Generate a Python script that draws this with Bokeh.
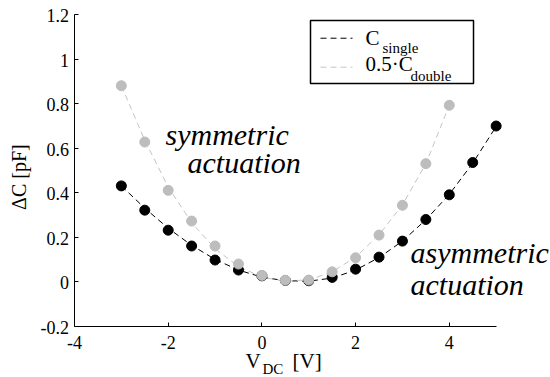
import math
from bokeh.plotting import figure
from bokeh.models import (Range1d, FixedTicker, PrintfTickFormatter, Label, BoxAnnotation, Arrow)
from bokeh.embed import file_html
from bokeh.resources import INLINE

# ---- data ----
v_single = [-3, -2.5, -2, -1.5, -1, -0.5, 0, 0.5, 1, 1.5, 2, 2.5, 3, 3.5, 4, 4.5, 5]
c_single = [0.430, 0.321, 0.231, 0.160, 0.097, 0.052, 0.026, 0.005, 0.004, 0.019,
            0.056, 0.110, 0.182, 0.279, 0.390, 0.535, 0.699]
fit_single = [0.430, 0.330, 0.240, 0.163, 0.100, 0.052, 0.020, 0.004, 0.002, 0.016,
              0.052, 0.108, 0.182, 0.278, 0.392, 0.532, 0.697]

v_double = [-3, -2.5, -2, -1.5, -1, -0.5, 0, 0.5, 1, 1.5, 2, 2.5, 3, 3.5, 4]
c_double_half = [0.880, 0.627, 0.410, 0.272, 0.160, 0.079, 0.028, 0.006, 0.007, 0.044,
                 0.107, 0.209, 0.343, 0.530, 0.792]
fit_double_half = [0.880, 0.635, 0.425, 0.265, 0.148, 0.068, 0.020, 0.002, 0.008, 0.044,
                   0.110, 0.210, 0.345, 0.530, 0.792]

x_ticks = [-4, -2, 0, 2, 4]
y_ticks = [-0.2, 0, 0.2, 0.4, 0.6, 0.8, 1, 1.2]

SERIF = "'Liberation Serif'"
GRAY_PT = "#bdbdbd"
GRAY_LN = "#c4c4c4"
PX_X = 46.85   # pixels per x unit
PX_Y = 222.6   # pixels per y unit
DESC = 0.216   # font descent (em) -- text is anchored at the descent line

# the frame fills the whole canvas; axes are pinned at x=-4 and y=-0.2
p = figure(width=550, height=377, output_backend="svg", toolbar_location=None,
           x_range=Range1d(-5.5795, 6.1601), y_range=Range1d(-0.4307, 1.2629),
           min_border=0, min_border_left=0, min_border_right=0,
           min_border_top=0, min_border_bottom=0)
p.outline_line_color = None
p.grid.visible = False
p.background_fill_color = "white"
p.border_fill_color = "white"

p.xaxis.fixed_location = -0.2
p.yaxis.fixed_location = -4
p.xaxis.bounds = (-4, 5)
p.yaxis.bounds = (-0.2, 1.2)
p.xaxis.ticker = FixedTicker(ticks=x_ticks)
p.yaxis.ticker = FixedTicker(ticks=y_ticks)
for ax in (p.xaxis[0], p.yaxis[0]):
    ax.axis_line_color = "black"
    ax.axis_line_width = 1
    ax.major_tick_line_color = "black"
    ax.major_tick_in = 4
    ax.major_tick_out = 0
    ax.minor_tick_line_color = None
    ax.formatter = PrintfTickFormatter(format=" ")  # tick texts drawn below in serif


def lab(x, y, text, size, style="normal", rotated=False, align="left"):
    s = float(size.replace("px", ""))
    if rotated:
        x = x - DESC * s / PX_X
    else:
        y = y + DESC * s / PX_Y
    p.add_layout(Label(x=x, y=y, text=text, text_font=SERIF, text_font_size=size,
                       text_font_style=style, text_color="black", level="overlay",
                       angle=(math.pi / 2 if rotated else 0), text_align=align,
                       text_baseline="alphabetic"))


# tick labels (serif), placed at the tick values
for t in x_ticks:
    lab(t, -0.2914, "%g" % t, "18px", align="center")
for t in y_ticks:
    lab(-4.1174, t - 0.022, "%g" % t, "18px", align="right")

# fitted dashed curves
p.line(v_single, fit_single, line_color="black", line_width=1, line_dash="6 4")
p.line(v_double, fit_double_half, line_color=GRAY_LN, line_width=1, line_dash="6 4")
# measured points
p.scatter(v_single, c_single, size=10, fill_color="black", line_color="black")
p.scatter(v_double, c_double_half, size=10, fill_color=GRAY_PT, line_color=GRAY_PT)

# legend box with dashed keys and subscripted texts
p.add_layout(BoxAnnotation(left=1.0374, right=4.5168, top=1.1731, bottom=0.8900,
                           fill_color="white", fill_alpha=1, line_color="black",
                           line_width=1.5, line_alpha=1))
p.add_layout(Arrow(x_start=1.251, y_start=1.0935, x_end=1.934, y_end=1.0935, end=None,
                   line_color="black", line_width=1, line_dash="6 4"))
p.add_layout(Arrow(x_start=1.251, y_start=0.9633, x_end=1.934, y_end=0.9633, end=None,
                   line_color=GRAY_LN, line_width=1, line_dash="6 4"))
lab(2.211, 1.072, "C", "21px")
lab(2.574, 1.036, "single", "15px")
lab(2.211, 0.956, "0.5\u00b7C", "21px")
lab(3.172, 0.911, "double", "15px")

# annotations
lab(-2.058, 0.633, "symmetric", "30px", "italic")
lab(-1.588, 0.507, "actuation", "30px", "italic")
lab(3.172, 0.1036, "asymmetric", "30px", "italic")
lab(3.172, -0.040, "actuation", "30px", "italic")

# axis labels
lab(-0.350, -0.3770, "V", "21px")
lab(0.013, -0.4082, "DC", "15px")
lab(0.653, -0.3770, "[V]", "21px")
lab(-5.089, 0.481, "\u0394C  [pF]", "20px", rotated=True, align="center")

open("out.html", "w").write(file_html(p, INLINE))
